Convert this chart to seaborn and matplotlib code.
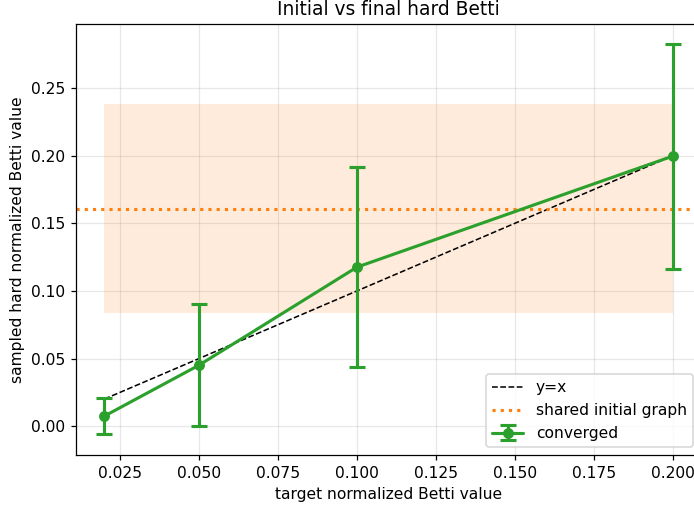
import numpy as np
import pandas as pd
import matplotlib
matplotlib.use('Agg')
import matplotlib.pyplot as plt
import seaborn as sns

# Values
targets = [0.02, 0.05, 0.10, 0.20]
sampled_mean = [0.0074, 0.0451, 0.1176, 0.1997]
sampled_std = [0.0134, 0.0453, 0.0738, 0.0833]
initial_mean = 0.1605
initial_low = 0.0836
initial_high = 0.2380

sns.set_style('white', {'text.color': 'black', 'axes.labelcolor': 'black',
                        'xtick.color': 'black', 'ytick.color': 'black',
                        'axes.edgecolor': 'black'})
plt.rcParams['font.family'] = ['DejaVu Sans']

DPI = 112
fig = plt.figure(figsize=(694 / DPI, 508 / DPI), dpi=DPI)
ax = fig.add_axes([76 / 694, 53 / 508, 625 / 694, 431 / 508])

ident = pd.DataFrame({'x': [targets[0], targets[-1]], 'y': [targets[0], targets[-1]]})
sns.lineplot(data=ident, x='x', y='y', ax=ax, color='black', linestyle='--',
             linewidth=1, label='y=x')

ax.axhline(initial_mean, color='tab:orange', linestyle=':', linewidth=2,
           label='shared initial graph')
ax.fill_between([targets[0], targets[-1]], initial_low, initial_high,
                color='tab:orange', alpha=0.15, linewidth=0)

ax.errorbar(targets, sampled_mean, yerr=sampled_std, color='tab:green', marker='o',
            linewidth=2, capsize=5, capthick=2, label='converged')

for s in ['top', 'right', 'left', 'bottom']:
    ax.spines[s].set_color('black')
    ax.spines[s].set_linewidth(0.8)
ax.tick_params(axis='both', which='both', length=3.5, width=0.8, direction='out',
               bottom=True, left=True, labelsize=10, color='black', labelcolor='black')
ax.grid(True, alpha=0.3, color='#b0b0b0', linewidth=0.8)
ax.set_xlim(0.011, 0.209)
ax.set_ylim(-0.0214, 0.2975)
ax.set_xticks([0.025, 0.05, 0.075, 0.1, 0.125, 0.15, 0.175, 0.2])
ax.set_yticks([0.0, 0.05, 0.10, 0.15, 0.20, 0.25])
ax.xaxis.set_major_formatter(matplotlib.ticker.FormatStrFormatter('%.3f'))
ax.yaxis.set_major_formatter(matplotlib.ticker.FormatStrFormatter('%.2f'))
ax.set_xlabel('target normalized Betti value', fontsize=10, color='black')
ax.set_ylabel('sampled hard normalized Betti value', fontsize=10, color='black')
ax.set_title('Initial vs final hard Betti', fontsize=12, color='black', pad=5.5)
ax.legend(loc='lower right', fontsize=10, labelcolor='black')

fig.savefig('out.png', dpi=DPI)
